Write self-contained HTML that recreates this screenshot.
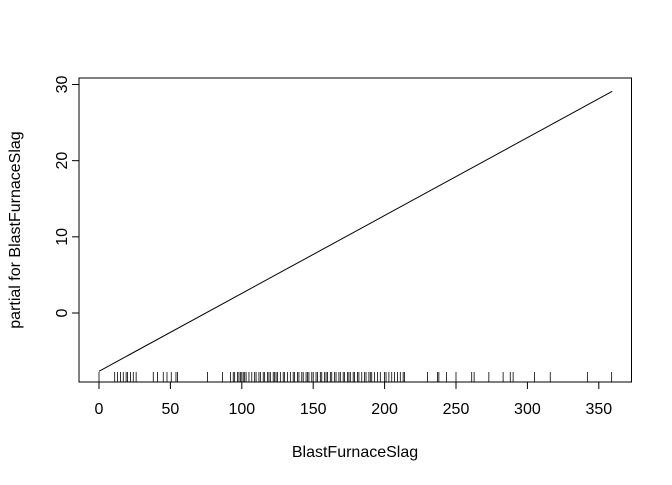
<!DOCTYPE html>
<html><head><style>body{margin:0;background:#fff}svg text{font-family:"Liberation Sans",sans-serif;font-size:16px;fill:#000}</style></head>
<body>
<svg id="c" width="672" height="480">
<rect x="79" y="78" width="552.5" height="304" fill="none" stroke="#000"/>
<g id="g"></g>
<text x="355" y="457" text-anchor="middle">BlastFurnaceSlag</text>
<text transform="translate(20,230) rotate(-90)" text-anchor="middle">partial for BlastFurnaceSlag</text>
</svg>
<script>
const xTicks=[0,50,100,150,200,250,300,350];
const yTicks=[0,10,20,30];
const lineX=[0,359.4];
const lineY=[-7.65,29.1];
const rug=[0,11,13,15,17,19,20,22,24,26,38,41,45,47.6,50.6,53.9,55,76,86.5,92,94,95,97,98,99,100,101,102,103,105,107,109,110,112,113,115,116,118,119,120,122,123,124,125,127,129,130,132,134,136,137,139,140,142,143,145,146,147,149,150,152,153,155,156,158,159,160,162,163,165,166,168,169,171,172,174,175,176,178,179,181,182,184,186,187,189,190,191,193,195,197,200,201,203,205,207,209,211,213,214,230,237,238,243.4,250,261,262.7,273,283,288,290,305,316,342,359];
const X=v=>99+v*(598.8-99)/350;
const Y=v=>313-v*(313-84.5)/30;
const g=document.getElementById('g');const NS='http://www.w3.org/2000/svg';
function mk(t,a){const e=document.createElementNS(NS,t);for(const k in a)e.setAttribute(k,a[k]);g.appendChild(e);return e;}
let e=mk('line',{x1:X(xTicks[0]),x2:X(xTicks[xTicks.length-1]),y1:382,y2:382,stroke:'#000'});


xTicks.forEach(t=>{let l=mk('line',{x1:X(t),x2:X(t),y1:382,y2:389,stroke:'#000'});


let s=mk('text',{x:X(t),y:414,'text-anchor':'middle'});s.textContent=t;

});
e=mk('line',{x1:79,x2:79,y1:Y(yTicks[0]),y2:Y(yTicks[yTicks.length-1]),stroke:'#000'});


yTicks.forEach(t=>{let l=mk('line',{x1:72,x2:79,y1:Y(t),y2:Y(t),stroke:'#000'});


let s=mk('text',{transform:`translate(67,${Y(t)}) rotate(-90)`,'text-anchor':'middle'});s.textContent=t;

});
rug.forEach(v=>{let l=mk('line',{x1:X(v),x2:X(v),y1:382,y2:372,stroke:'#000','stroke-width':0.8});

});
e=mk('line',{x1:X(lineX[0]),y1:Y(lineY[0]),x2:X(lineX[1]),y2:Y(lineY[1]),stroke:'#000'});


</script>
</body></html>
